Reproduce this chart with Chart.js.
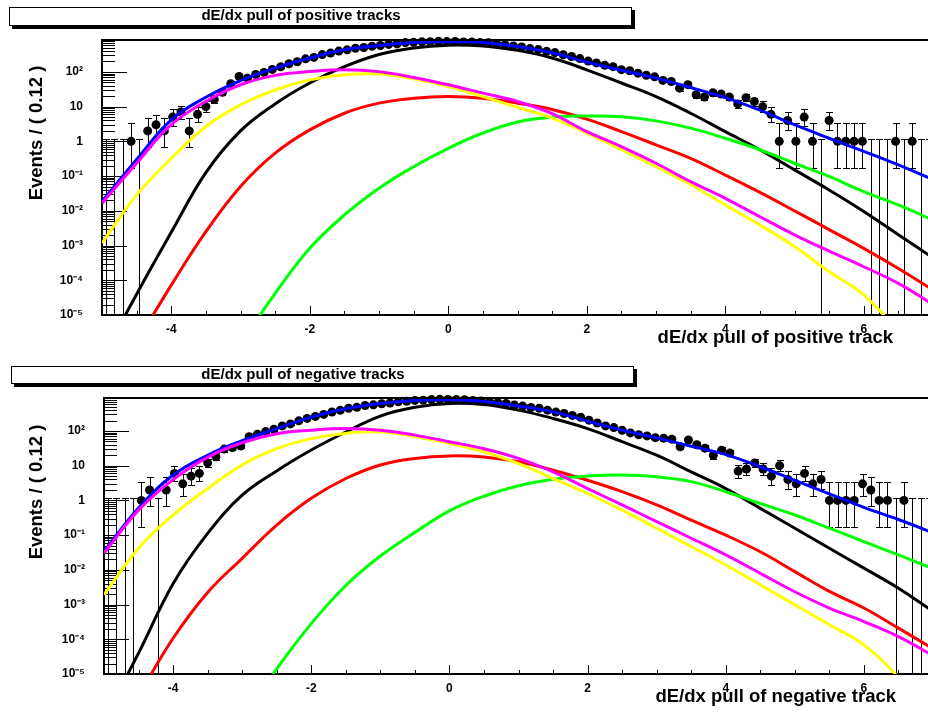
<!doctype html>
<html lang="en">
  <head>
    <meta charset="utf-8">
    <title>dE/dx pull of tracks</title>
    <script src="https://cdn.jsdelivr.net/npm/chart.js@4.4.0/dist/chart.umd.min.js"></script>
    <style>
      body { margin: 0; width: 928px; height: 713px; overflow: hidden; background: #fff; position: relative;
             font-family: "Liberation Sans", Arial, sans-serif; color: #000; }
      canvas { position: absolute; left: 0; }
      .pave { position: absolute; border: 1px solid #000; box-shadow: 3px 3px 0 #000; background: #fff; }
      .pave span { position: absolute; left: 0; width: 582px; top: -1px; text-align: center;
                   font-weight: bold; font-size: 15px; line-height: 15px; white-space: nowrap; }
      .xtitle { position: absolute; font-weight: bold; font-size: 18.5px; line-height: 1; white-space: nowrap; }
      .ytitle { position: absolute; width: 200px; height: 22px; line-height: 22px; text-align: center;
                font-weight: bold; font-size: 18.5px; white-space: nowrap; transform: rotate(-90deg); }
    </style>
  </head>
  <body>
    <canvas id="posChart" width="940" height="356" style="top:0"></canvas>
    <canvas id="negChart" width="940" height="357" style="top:356px"></canvas>

    <div class="pave" style="left:9px; top:7px; width:621px; height:17px;"><span>dE/dx pull of positive tracks</span></div>
    <div class="pave" style="left:11px; top:366px; width:621px; height:16px;"><span>dE/dx pull of negative tracks</span></div>

    <div class="xtitle" style="right:35px; top:328px;">dE/dx pull of positive track</div>
    <div class="xtitle" style="right:32px; top:687px;">dE/dx pull of negative track</div>

    <div class="ytitle" style="left:-64px; top:122px;">Events / ( 0.12 )</div>
    <div class="ytitle" style="left:-64px; top:481px;">Events / ( 0.12 )</div>

    <script>
      // binning of the data histograms
      const xLow = -5;
      const binWidth = 0.12;

      // events per bin, positive tracks
      const posCounts = [
        0, 0, 0, 1, 0, 2, 3, 2, 5, 7,
        2, 6, 10, 16, 26, 46, 74, 66, 84, 97,
        118, 140, 172, 196, 238, 262, 316, 348, 398, 432,
        480, 505, 545, 575, 620, 640, 700, 712, 735, 742,
        760, 748, 752, 730, 725, 700, 690, 640, 610, 560,
        525, 470, 440, 392, 360, 312, 278, 242, 205, 182,
        156, 142, 116, 108, 92, 80, 72, 57, 53, 34,
        43, 22, 19, 25, 23, 19, 12, 18, 14, 10,
        6, 1, 4, 1, 5, 1, 0, 4, 1, 1,
        1, 1, 0, 0, 0, 1, 0, 1, 0, 0
      ];

      // events per bin, negative tracks
      const negCounts = [
        0, 0, 0, 0, 1, 2, 0, 2, 6, 3,
        5, 6, 12, 18, 30, 33, 37, 68, 80, 96,
        112, 140, 160, 196, 230, 262, 300, 352, 392, 450,
        480, 540, 566, 610, 640, 690, 715, 760, 772, 800,
        815, 812, 800, 790, 760, 735, 700, 655, 622, 560,
        520, 475, 450, 398, 350, 318, 280, 248, 205, 170,
        140, 125, 105, 88, 78, 72, 64, 62, 58, 35,
        55, 40, 32, 20, 28, 23, 7, 8, 12, 8,
        5, 10, 4, 3, 6, 3, 4, 1, 1, 1,
        1, 3, 2, 1, 1, 0, 1, 0, 0, 0
      ];

      const curveX = [-5, -4.5, -4, -3.5, -3, -2.5, -2, -1.5, -1, -0.5, 0, 0.5, 1, 1.5, 2, 2.5, 3, 3.5, 4, 4.5, 5, 5.5, 6, 6.5, 7];

      // positive tracks: total fit and components
      const posTotal   = [1.86e-2, 0.302, 4.17, 18.6, 56.2, 129, 251, 437, 575, 708, 741, 708, 537, 355, 191, 112, 66.1, 35.5, 18.2, 7.94, 3.02, 1.23, 0.513, 0.209, 0.0794];
      const posBlack   = [5.5e-7, 3.98e-5, 2.40e-3, 0.126, 2.0, 12.0, 47.9, 141, 316, 490, 589, 562, 417, 251, 115, 47.9, 19.5, 6.46, 1.91, 0.575, 0.151, 0.0398, 9.55e-3, 2.04e-3, 4.47e-4];
      const posMagenta = [1.66e-2, 0.234, 3.02, 14.1, 42.7, 79.4, 102, 115, 102, 69.2, 42.7, 24.5, 14.1, 6.31, 1.91, 0.708, 0.234, 0.0692, 0.0229, 6.76e-3, 2.04e-3, 6.92e-4, 2.45e-4, 8.13e-5, 2.0e-5];
      const posYellow  = [1.18e-3, 2.88e-2, 0.324, 2.69, 11.2, 30.2, 58.9, 83.2, 87.1, 63.1, 38.0, 19.5, 9.55, 4.68, 1.74, 0.575, 0.186, 0.0562, 0.0148, 3.89e-3, 9.33e-4, 1.78e-4, 3.80e-5, 3.16e-6, 1.58e-7];
      const posRed     = [3.98e-8, 1.62e-6, 7.24e-5, 2.51e-3, 5.01e-2, 0.457, 2.14, 6.46, 12.6, 17.4, 19.5, 17.4, 12.6, 8.32, 4.37, 1.91, 0.794, 0.324, 0.107, 0.0339, 0.0100, 2.88e-3, 8.32e-4, 2.19e-4, 5.25e-5];
      const posGreen   = [2e-13, 1.58e-11, 1e-9, 3.98e-8, 1.41e-6, 4.17e-5, 8.32e-4, 7.59e-3, 4.47e-2, 0.186, 0.631, 1.74, 3.63, 5.01, 5.37, 5.13, 3.89, 2.40, 1.23, 0.575, 0.234, 0.0977, 0.0355, 0.0148, 5.37e-3];

      // negative tracks: total fit and components
      const negTotal   = [0.0339, 0.603, 5.37, 20.0, 52.5, 117, 251, 437, 617, 759, 794, 708, 525, 355, 191, 105, 63.1, 36.3, 20.9, 9.33, 3.80, 1.55, 0.631, 0.282, 0.117];
      const negBlack   = [5.01e-7, 3.98e-5, 3.98e-3, 0.112, 1.41, 7.08, 28.2, 93.3, 269, 479, 617, 575, 398, 229, 117, 49.0, 20.0, 6.61, 2.19, 0.589, 0.158, 0.0417, 0.0112, 2.95e-3, 6.31e-4];
      const negMagenta = [0.0302, 0.525, 3.98, 17.4, 45.7, 83.2, 105, 117, 105, 75.9, 49.0, 30.9, 16.2, 6.61, 2.19, 0.741, 0.245, 0.0813, 0.0269, 7.94e-3, 2.34e-3, 7.94e-4, 3.24e-4, 1.20e-4, 3.39e-5];
      const negYellow  = [1.91e-3, 0.0417, 0.380, 2.19, 10.5, 30.9, 60.3, 85.1, 93.3, 69.2, 43.7, 25.1, 11.5, 4.27, 1.58, 0.525, 0.158, 0.0468, 0.0138, 3.72e-3, 9.77e-4, 2.63e-4, 6.92e-5, 7.94e-6, 5.01e-7];
      const negRed     = [5.01e-8, 2.34e-6, 1.07e-4, 2.24e-3, 0.0214, 0.195, 1.15, 4.27, 10.5, 16.2, 19.1, 17.8, 12.9, 7.41, 3.80, 1.78, 0.741, 0.269, 0.1, 0.0331, 8.91e-3, 2.40e-3, 7.94e-4, 2.09e-4, 5.37e-5];
      const negGreen   = [1e-12, 3.16e-11, 1e-9, 2.51e-8, 5.01e-7, 1.41e-5, 2.82e-4, 3.55e-3, 0.0251, 0.120, 0.501, 1.32, 2.63, 4.07, 5.01, 5.37, 4.79, 3.47, 1.78, 0.813, 0.380, 0.158, 0.0646, 0.0269, 0.0107];

      // axis ticks
      const xTickValues = [-4, -2, 0, 2, 4, 6];
      const yTickValues = [1e-5, 1e-4, 1e-3, 1e-2, 1e-1, 1, 10, 100];
      const yTickLabels = ['10⁻⁵', '10⁻⁴', '10⁻³', '10⁻²', '10⁻¹', '1', '10', '10²'];

      // 68% Poisson intervals for small counts (zero bins: one sided)
      const poissonLow  = [0, 0.173, 0.708, 1.367, 2.086, 2.840, 3.620, 4.419, 5.232, 6.057, 6.891];
      const poissonHigh = [1.148, 3.300, 4.638, 5.918, 7.163, 8.382, 9.584, 10.77, 11.95, 13.11, 14.27];

      const binCenter = i => xLow + binWidth * (i + 0.5);

      function poissonInterval(n) {
        if (n < poissonLow.length) return [poissonLow[n], poissonHigh[n]];
        const s = Math.sqrt(n + 0.25);
        return [n - s + 0.5, n + s + 0.5];
      }

      // error bars, ticks drawn inward like ROOT and the top frame line
      const rootFrame = {
        id: 'rootFrame',
        beforeDatasetsDraw(chart, args, opts) {
          const {ctx, chartArea: a, scales: {x, y}} = chart;
          ctx.save();
          ctx.strokeStyle = '#000';
          ctx.lineWidth = 1;

          // y ticks: decades long, the rest short
          ctx.beginPath();
          for (let k = -5; k <= 3; k++) {
            for (let m = 1; m <= 9; m++) {
              const v = m * Math.pow(10, k);
              if (v < y.min * 0.999 || v > y.max) continue;
              const py = Math.round(y.getPixelForValue(v)) + 0.5;
              ctx.moveTo(a.left, py);
              ctx.lineTo(a.left + (m === 1 ? 25 : 13), py);
            }
          }
          // x ticks every 0.5
          for (let j = -9; j <= 13; j++) {
            const px = Math.round(x.getPixelForValue(j / 2)) + 0.5;
            ctx.moveTo(px, a.bottom);
            ctx.lineTo(px, a.bottom - (j % 4 === 0 ? 9 : 4));
          }
          ctx.stroke();

          // error bars
          ctx.beginPath();
          ctx.rect(a.left, a.top, a.right - a.left, a.bottom - a.top);
          ctx.clip();
          ctx.beginPath();
          opts.counts.forEach((n, i) => {
            const px = Math.round(x.getPixelForValue(binCenter(i))) + 0.5;
            const [lo, hi] = poissonInterval(n);
            const yHi = Math.round(y.getPixelForValue(hi)) + 0.5;
            const yLo = lo > 0 ? Math.round(y.getPixelForValue(lo)) + 0.5 : a.bottom;
            ctx.moveTo(px, yLo);
            ctx.lineTo(px, yHi);
            ctx.moveTo(px - 3.5, yHi);
            ctx.lineTo(px + 3.5, yHi);
            if (lo > 0) {
              ctx.moveTo(px - 3.5, yLo);
              ctx.lineTo(px + 3.5, yLo);
            }
          });
          ctx.stroke();
          ctx.restore();
        },
        afterDraw(chart) {
          const {ctx, chartArea: a} = chart;
          ctx.save();
          ctx.strokeStyle = '#000';
          ctx.lineWidth = 2;
          ctx.beginPath();
          ctx.moveTo(a.left, a.top);
          ctx.lineTo(a.right, a.top);
          ctx.lineTo(a.right, a.bottom);
          ctx.stroke();
          ctx.restore();
        }
      };

      function curve(values, color) {
        return {
          data: curveX.map((x, i) => ({x: x, y: values[i]})),
          showLine: true,
          borderColor: color,
          borderWidth: 3,
          pointRadius: 0,
          tension: 0.4,
          clip: 0
        };
      }

      function makePanel(id, counts, comps, cfg) {
        const axisFont = {family: 'Liberation Sans', weight: 'bold', size: 12};
        return new Chart(document.getElementById(id), {
          type: 'scatter',
          data: {
            datasets: [
              curve(comps.magenta, '#ff00ff'),
              curve(comps.total, '#0000ff'),
              curve(comps.yellow, '#ffff00'),
              curve(comps.green, '#00ff00'),
              curve(comps.red, '#ff0000'),
              curve(comps.black, '#000000'),
              {
                data: counts.map((n, i) => ({x: binCenter(i), y: n > 0 ? n : null})),
                pointRadius: 4.5,
                pointBorderWidth: 0,
                pointBackgroundColor: '#000',
                showLine: false,
                clip: false
              }
            ]
          },
          options: {
            responsive: false,
            animation: false,
            events: [],
            layout: {padding: {top: cfg.top, right: 7, left: 0, bottom: 0}},
            plugins: {
              legend: {display: false},
              tooltip: {enabled: false},
              rootFrame: {counts: counts}
            },
            scales: {
              x: {
                type: 'linear',
                min: -5,
                max: 7,
                afterBuildTicks: s => { s.ticks = xTickValues.map(v => ({value: v})); },
                afterFit: s => { s.height = cfg.bottom; },
                grid: {display: false, drawTicks: false},
                border: {display: true, color: '#000', width: 2},
                ticks: {color: '#000', font: axisFont, padding: 7, maxRotation: 0, autoSkip: false,
                        callback: v => String(v)}
              },
              y: {
                type: 'logarithmic',
                min: 1e-5,
                max: cfg.yMax,
                afterBuildTicks: s => { s.ticks = yTickValues.map(v => ({value: v})); },
                afterFit: s => { s.width = cfg.left; },
                grid: {display: false, drawTicks: false},
                border: {display: true, color: '#000', width: 2},
                ticks: {color: '#000', font: axisFont, padding: 19, autoSkip: false,
                        callback: (v, i) => yTickLabels[i]}
              }
            }
          },
          plugins: [rootFrame]
        });
      }

      makePanel('posChart', posCounts,
        {total: posTotal, black: posBlack, magenta: posMagenta, yellow: posYellow, red: posRed, green: posGreen},
        {top: 40, bottom: 41, left: 102, yMax: 830});

      makePanel('negChart', negCounts,
        {total: negTotal, black: negBlack, magenta: negMagenta, yellow: negYellow, red: negRed, green: negGreen},
        {top: 42, bottom: 39, left: 104, yMax: 890});
    </script>
  </body>
</html>
